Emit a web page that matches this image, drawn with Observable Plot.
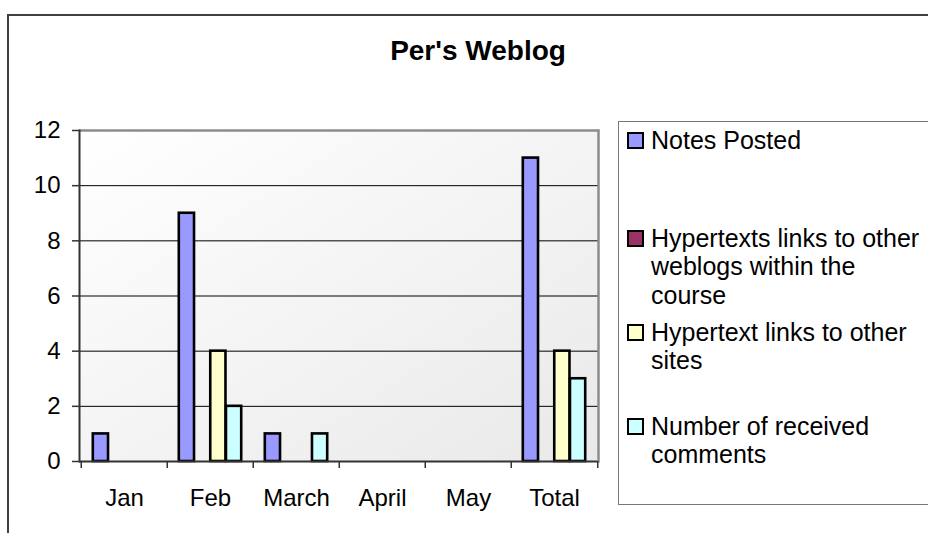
<!DOCTYPE html>
<html>
<head>
<meta charset="utf-8">
<script src="https://cdn.jsdelivr.net/npm/d3@7"></script>
<script src="https://cdn.jsdelivr.net/npm/@observablehq/plot@0.6"></script>
<style>
  html, body { margin: 0; padding: 0; background: #fff; }
  body { width: 928px; height: 533px; overflow: hidden; position: relative;
         font-family: "Liberation Sans", Arial, sans-serif; color: #000; }
  #outer { position: absolute; left: 7px; top: 14px; width: 1000px; height: 1000px;
           border: 2px solid #404040; box-sizing: border-box; }
  #chart { position: absolute; left: 0; top: 0; }
  #title { position: absolute; left: 178px; width: 600px; top: 37px; text-align: center;
           font-weight: bold; font-size: 28px; line-height: 28px; white-space: nowrap; }
  #legend { position: absolute; left: 618px; top: 121px; width: 400px; height: 384px;
            border: 1.5px solid #777; box-sizing: border-box; background: #fff; }
  .item { position: absolute; left: 651px; width: 272px; font-size: 25px; line-height: 28.3px; }
  .sw { position: absolute; left: 627px; width: 17px; height: 17px; border: 2px solid #000; box-sizing: border-box; }
</style>
</head>
<body>
<div id="outer"></div>
<div id="legend"></div>
<div id="chart"></div>
<div id="title"></div>
<script>
// ---- data ----
const chartTitle = "Per's Weblog";
const months = ["Jan", "Feb", "March", "April", "May", "Total"];
const seriesNames = [
  "Notes Posted",
  "Hypertexts links to other weblogs within the course",
  "Hypertext links to other sites",
  "Number of received comments"
];
const notesPosted      = [1, 9, 1, 0, 0, 11];
const linksWithinCourse = [0, 0, 0, 0, 0, 0];
const linksOtherSites  = [0, 4, 0, 0, 0, 4];
const receivedComments = [0, 2, 1, 0, 0, 3];
const seriesColors = ["#9999FF", "#993366", "#FFFFCC", "#CCFFFF"];
const yTicks = [0, 2, 4, 6, 8, 10, 12];

const seriesValues = [notesPosted, linksWithinCourse, linksOtherSites, receivedComments];
const rows = [];
seriesNames.forEach((s, i) => months.forEach((m, j) => rows.push({series: s, month: m, value: seriesValues[i][j]})));

// ---- layout ----
const W = 928, H = 533, mL = 79, mR = 330, mT = 130, mB = 72;
const step = (W - mL - mR) / months.length;
const gapFrac = 0.75, slots = 5.5;

const chart = Plot.plot({
  width: W, height: H,
  marginLeft: mL, marginRight: mR, marginTop: mT, marginBottom: mB,
  style: {fontFamily: "'Liberation Sans', Arial, sans-serif", fontSize: "24px", background: "transparent", color: "#000"},
  x: {domain: months, padding: 0, label: null},
  y: {domain: [0, 12], label: null},
  marks: [
    Plot.frame({fill: "url(#plotBg)", stroke: null}),
    Plot.gridY({ticks: yTicks.filter(t => t > 0 && t < 12), stroke: "#000", strokeOpacity: 1, strokeWidth: 1}),
    ...seriesNames.map((s, i) => Plot.barY(rows.filter(d => d.series === s && d.value > 0), {
      x: "month", y: "value", fill: seriesColors[i], stroke: "#000", strokeWidth: 2.6,
      insetLeft: step * (gapFrac + i) / slots,
      insetRight: step * (slots - gapFrac - i - 1) / slots
    })),
    Plot.ruleY([0], {stroke: "#333", strokeWidth: 2}),
    Plot.ruleY([12], {stroke: "#8c8c8c", strokeWidth: 2.5}),
    Plot.frame({anchor: "right", stroke: "#8c8c8c", strokeWidth: 2.5}),
    Plot.frame({anchor: "left", stroke: "#333", strokeWidth: 2}),
    Plot.axisY({ticks: yTicks, tickSize: 7, tickPadding: 12, strokeWidth: 1.5, stroke: "#333", fill: "#000"}),
    Plot.axisX({tickSize: 0, tickPadding: 27, fill: "#000"}),
    Plot.axisX({tickSize: 7, tickFormat: () => "", dx: -step / 2, stroke: "#333", strokeWidth: 1.5}),
    Plot.axisX({ticks: [months[months.length - 1]], tickSize: 7, tickFormat: () => "", dx: step / 2, stroke: "#333", strokeWidth: 1.5})
  ]
});

const defs = d3.select(chart).insert("defs", ":first-child");
const grad = defs.append("linearGradient").attr("id", "plotBg")
  .attr("x1", "0").attr("y1", "0").attr("x2", "1").attr("y2", "1");
grad.append("stop").attr("offset", "0%").attr("stop-color", "#ffffff");
grad.append("stop").attr("offset", "100%").attr("stop-color", "#e9e9e9");

document.getElementById("chart").appendChild(chart);
document.getElementById("title").textContent = chartTitle;

// ---- legend ----
const itemTops = [126, 224, 318, 412];
const body = document.body;
seriesNames.forEach((s, i) => {
  const sw = document.createElement("div");
  sw.className = "sw";
  sw.style.top = (itemTops[i] + 5.5) + "px";
  sw.style.background = seriesColors[i];
  body.appendChild(sw);
  const t = document.createElement("div");
  t.className = "item";
  t.style.top = itemTops[i] + "px";
  t.textContent = s;
  body.appendChild(t);
});
</script>
</body>
</html>
